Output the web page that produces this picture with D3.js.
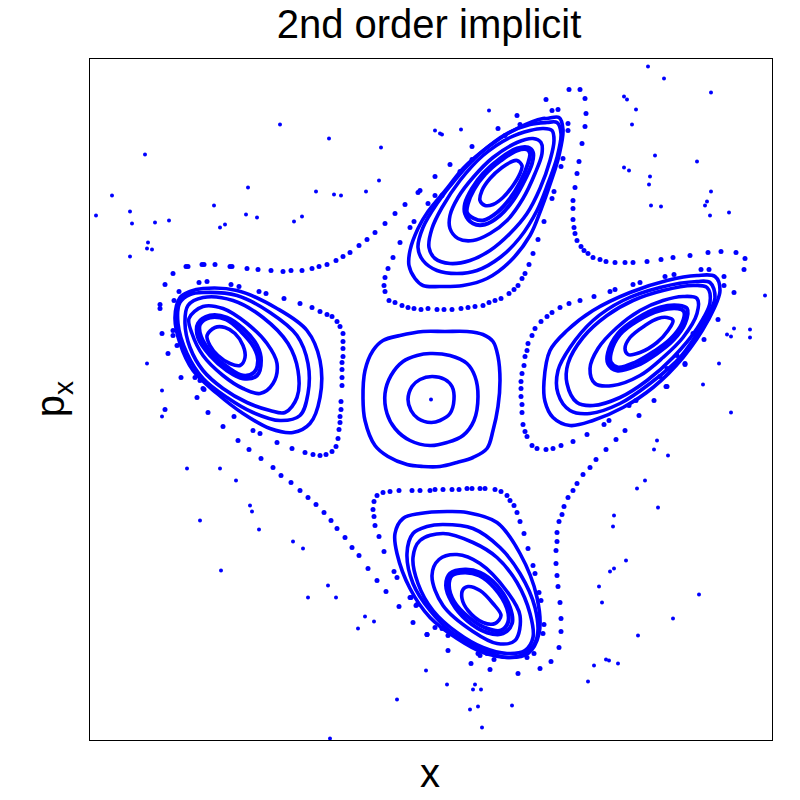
<!DOCTYPE html>
<html><head><meta charset="utf-8">
<style>html,body{margin:0;background:#fff}svg{display:block}text{font-family:"Liberation Sans",Arial,sans-serif;fill:#000}</style>
<script src="https://cdnjs.cloudflare.com/ajax/libs/d3/7.8.5/d3.min.js"></script>
</head><body><svg id="c" width="800" height="800"></svg>
<script>
const titleText="2nd order implicit";
const centreDot=[[0,0]];
const centreRings=[
[[1,23],[14,20],[21,13],[23,0],[19,-14],[9,-21],[0,-23],[-13,-19],[-20,-11],[-23,0],[-19,13],[-11,20]],
[[-1,46],[19,44],[36,36],[44,23],[47,3],[43,-21],[32,-36],[16,-43],[-1,-46],[-21,-41],[-36,-29],[-44,-14],[-46,6],[-40,24],[-28,38],[-14,44]],
[[-8,68],[14,68],[36,68],[52,65],[62,58],[67,43],[69,19],[67,-7],[62,-31],[56,-49],[42,-58],[26,-63],[9,-67],[-8,-67],[-24,-65],[-43,-57],[-56,-46],[-66,-21],[-68,1],[-66,29],[-58,49],[-48,59],[-31,64]]
];
const topIsland=[
[[86,239],[91,234],[89,226],[82,214],[72,202],[62,195],[54,194],[49,199],[51,209],[59,221],[71,232],[81,238]],
[[97,252],[102,247],[101,236],[92,216],[82,199],[69,184],[54,175],[42,176],[34,186],[34,196],[41,211],[52,226],[69,241],[86,251]],
[[96,250],[99,246],[97,236],[89,217],[79,201],[66,187],[52,179],[43,181],[36,187],[37,196],[43,210],[54,225],[70,239],[86,249]],
[[102,261],[110,257],[111,246],[104,226],[92,201],[76,179],[59,166],[42,159],[27,161],[19,171],[19,184],[27,202],[42,222],[62,242],[86,257]],
[[112,271],[121,269],[123,259],[119,239],[109,211],[96,186],[79,166],[59,149],[39,139],[19,136],[4,141],[-2,152],[1,171],[11,192],[29,219],[52,244],[79,262],[99,269]],
[[116,277],[126,277],[130,266],[126,242],[117,216],[106,189],[89,162],[69,142],[46,129],[26,126],[6,129],[-8,139],[-13,152],[-8,172],[6,196],[26,222],[49,246],[76,266],[99,275]],
[[116,281],[128,282],[132,270],[128,244],[120,218],[110,190],[99,164],[79,138],[56,121],[32,114],[9,113],[-8,114],[-16,121],[-22,134],[-21,149],[-13,171],[-3,188],[16,211],[32,231],[59,254],[86,271],[112,281]]
];
const leftIsland=[
[[-216,72],[-206,72],[-196,66],[-188,54],[-186,42],[-191,34],[-201,36],[-213,44],[-221,54],[-224,64]],
[[-221,84],[-204,82],[-188,71],[-174,54],[-170,39],[-174,24],[-188,21],[-204,29],[-221,44],[-233,62],[-233,76]],
[[-221,82],[-205,80],[-190,68],[-177,52],[-173,39],[-177,27],[-188,24],[-203,32],[-219,46],[-230,63],[-231,75]],
[[-228,93],[-208,91],[-184,76],[-164,56],[-154,36],[-158,16],[-171,6],[-188,11],[-208,24],[-228,44],[-239,66],[-242,81]],
[[-228,102],[-198,99],[-168,82],[-143,56],[-133,29],[-134,2],[-146,-13],[-161,-11],[-184,-3],[-208,11],[-228,29],[-241,52],[-246,76],[-243,94]],
[[-228,107],[-194,104],[-161,87],[-134,64],[-123,36],[-123,6],[-131,-16],[-151,-21],[-178,-13],[-204,2],[-228,21],[-244,46],[-253,76],[-251,97],[-241,105]],
[[-228,111],[-194,109],[-154,91],[-124,69],[-111,39],[-111,2],[-121,-24],[-138,-33],[-161,-29],[-188,-14],[-214,6],[-238,29],[-251,56],[-256,82],[-251,102],[-241,108]]
];
const rightIsland=[
[[236,82],[242,79],[237,69],[226,57],[209,47],[197,45],[194,51],[199,62],[214,74],[227,81]],
[[247,94],[256,91],[254,76],[242,59],[226,46],[206,34],[186,29],[177,36],[177,47],[187,66],[206,81],[229,92]],
[[247,91],[253,88],[251,76],[239,60],[223,48],[204,37],[187,32],[180,37],[180,47],[189,65],[207,79],[229,89]],
[[252,103],[266,101],[266,86],[252,62],[232,42],[209,24],[182,14],[164,16],[159,31],[167,51],[186,72],[209,89],[232,99]],
[[262,114],[276,112],[279,97],[266,71],[242,42],[216,19],[189,2],[162,-6],[146,-3],[136,16],[137,36],[152,62],[176,84],[202,99],[232,109]],
[[266,118],[279,117],[284,102],[272,76],[249,42],[219,16],[189,-4],[159,-14],[139,-11],[127,6],[127,29],[139,52],[162,79],[192,99],[229,112]],
[[266,124],[284,123],[289,109],[277,79],[252,42],[222,12],[192,-8],[162,-21],[139,-26],[122,-18],[114,-2],[113,18],[119,49],[136,69],[162,89],[199,107],[236,119]]
];
const bottomIsland=[
[[37,-187],[49,-191],[62,-204],[70,-216],[64,-224],[52,-223],[37,-211],[31,-199],[32,-190]],
[[34,-170],[49,-173],[66,-186],[79,-208],[81,-224],[72,-234],[56,-233],[36,-221],[21,-203],[15,-186],[19,-174]],
[[34,-173],[48,-176],[63,-188],[76,-209],[77,-223],[70,-231],[56,-229],[38,-218],[23,-202],[18,-186],[21,-176]],
[[26,-155],[49,-164],[76,-192],[89,-216],[84,-241],[66,-244],[42,-232],[12,-206],[1,-176],[8,-160]],
[[12,-134],[42,-143],[66,-158],[86,-183],[99,-214],[102,-238],[94,-251],[76,-254],[52,-248],[26,-233],[2,-211],[-13,-184],[-18,-158],[-11,-141]],
[[12,-125],[42,-129],[69,-148],[89,-174],[104,-208],[106,-238],[96,-253],[76,-258],[49,-249],[22,-234],[-1,-211],[-18,-184],[-24,-154],[-18,-134],[-4,-127]],
[[-11,-114],[16,-112],[36,-113],[66,-123],[89,-154],[106,-198],[108,-234],[97,-254],[79,-258],[52,-253],[26,-239],[-1,-218],[-21,-189],[-34,-154],[-36,-134],[-28,-119]]
];
const scatterPoints=[
[-151,275],[-102,261],[-50,252],[-286,245],[-52,219],[-183,212],[-115,208],[-97,205],[-90,204],[-65,208],[-319,204],[-217,194],[-301,188],[-335,184],[-185,185],[-174,182],[-129,183],[-137,178],[-262,179],[-276,177],[-299,176],[-206,175],[-211,172],[-283,157],[-284,151],[-279,150],[-301,143],[-284,36],[-269,9],
[-269,-17],[-244,-69],[-211,-69],[-195,-81],[-181,-106],[-179,-112],[-231,-121],[-172,-130],[-138,-142],[-128,-149],[-210,-171],[-103,-186],[-123,-198],[-95,-198],[-66,-217],[-57,-222],[-73,-229],[-5,-271],[-34,-300],[-101,-339],
[300,-13],[226,-41],[223,-50],[237,-56],[214,-81],[206,-89],[227,-108],[183,-116],[182,-127],[195,-161],[183,-169],[179,-172],[168,-187],[171,-203],[268,-195],[242,-219],[207,-236],[175,-260],[178,-261],[187,-264],[163,-266],[157,-282],[16,-285],[44,-285],[42,-290],[50,-290],[47,-307],[39,-310],[81,-306],[51,-328],
[217,333],[233,321],[280,307],[193,303],[196,300],[205,290],[201,275],[224,244],[266,238],[193,232],[198,229],[219,223],[218,215],[280,208],[276,198],[274,194],[220,194],[230,193],[279,184],[298,187],[334,104],[303,71],[319,70],[296,65],[300,63],[319,62],[288,36],[272,15],[58,289],[30,270],[4,269],[9,266],[11,265]
];
const outerChain=[
[-271,95],[-271,91],[-266,115],[-258,126],[-245,133],[-243,133],[-229,135],[-227,135],[-216,135],[-201,133],[-199,133],[-184,131],[-173,130],[-160,129],[-148,128],[-140,129],[-129,129],[-119,131],[-112,133],[-104,135],[-95,139],[-88,143],[-81,147],[-72,154],[-64,160],[-56,167],[-46,176],[-36,186],[-26,195],[-13,207],[-11,209],
[4,223],[19,235],[41,253],[67,271],[86,284],[115,300],[138,310],[149,310],[154,301],[155,286],[154,273],[151,256],[148,238],[146,226],[144,212],[142,199],[142,191],[142,180],[143,172],[144,166],[146,159],[150,153],[153,149],[157,146],[162,142],[169,140],[175,138],[184,137],[194,137],[202,137],[216,138],[230,140],[242,142],[259,144],[277,147],[290,148],[305,147],[314,141],[313,130],[303,107],[287,80],[273,60],[254,35],[235,13],[223,-1],[208,-16],[194,-31],[185,-40],[175,-50],[165,-60],[159,-68],[152,-75],[146,-84],[142,-91],[137,-98],[133,-107],[131,-115],[128,-122],[126,-133],[126,-142],[125,-151],[125,-164],[126,-176],[127,-187],[129,-203],[130,-219],[130,-232],[128,-248],[120,-262],[109,-269],[87,-274],[59,-270],[40,-264],[17,-251],
[-4,-235],[-18,-223],[-32,-207],[-45,-192],[-54,-181],[-63,-169],[-72,-156],[-79,-148],[-86,-138],[-94,-129],[-100,-121],[-107,-113],[-115,-105],[-123,-98],[-131,-91],[-140,-83],[-150,-76],[-158,-68],[-170,-59],[-182,-50],[-193,-41],[-208,-27],[-223,-13],[-266,-10],[-227,10],[-250,22],[-263,46],[-269,66]
];
const rightChain=[
[270,130],[278,130],[293,123],[293,114],[243,125],[234,123],[209,117],[202,115],[184,110],[179,108],[163,103],[149,99],[138,96],[129,92],[121,87],[116,83],[110,78],[104,71],[101,64],[97,56],[96,49],[94,43],[93,34],[91,26],[90,18],[90,11],[90,3],[91,-5],[91,-13],[92,-25],[94,-32],[96,-37],[101,-46],[106,-49],[115,-50],[122,-49],[130,-46],[142,-42],[156,-35],[173,-25],[178,-21],[198,-6],[205,-1]
];
const bottomChain=[
[4,-90],[12,-90],[21,-90],[28,-90],[36,-89],[41,-89],[49,-89],[54,-89],[64,-90],[70,-92],[76,-96],[79,-101],[83,-106],[86,-113],[89,-122],[93,-134],[97,-149],[102,-166],[104,-174],[108,-193],[110,-201],[113,-225],[112,-234],[103,-254],[96,-258],[63,-260],[49,-256],
[-1,-91],[-11,-91],[-19,-91],[-32,-91],[-41,-92],[-48,-93],[-54,-96],[-57,-102],[-58,-110],[-57,-117],[-56,-126],[-52,-137],[-47,-152],[-37,-172],[-34,-178],[-21,-198],[-15,-206]
];
const leftChain=[
[-197,-17],[-178,-31],[-171,-34],[-154,-43],[-139,-49],[-126,-53],[-118,-55],[-111,-56],[-105,-55],[-99,-52],[-95,-47],[-93,-39],[-92,-30],[-91,-23],[-91,-17],[-90,-10],[-90,-2],[-89,14],[-89,22],[-89,30],[-89,37],[-88,43],[-88,51],[-88,58],[-88,66],[-91,73],[-94,78],[-99,83],[-104,85],[-111,88],[-119,92],[-131,96],[-147,101],[-165,106],[-172,108],[-192,113],[-200,115],[-224,118],[-232,117],[-252,108],[-257,99]
];
const topChain=[
[-3,196],[-17,178],[-21,172],[-31,157],[-38,142],[-43,131],[-46,122],[-47,114],[-46,108],[-42,99],[-36,97],[-29,94],[-23,92],[-17,91],[-10,90],[-3,91],[6,90],[13,90],[21,90],[30,91],[37,92],[44,93],[52,94],[58,97],[64,99],[70,101],[78,106],[83,110],[87,114],[91,121],[94,126],[98,135],[102,146],[107,160],[113,178],[121,201],[123,208],[130,233],[132,241],[137,269],[137,276],[127,290],[121,289]
];
const layerFringe=[
[4,-228],[11,-229],[17,-236],[47,-254],[56,-254],[-4,-235],[-14,-205],[-20,-198],
[-258,69],[-258,64],[-254,54],[-236,22],[-231,19],[-234,2],[-228,11],
[229,23],[236,31],[246,44],[262,66],[274,82],[254,36],[236,13],
[41,240],[11,204],[89,275],[74,264],[29,228],[4,204]
];

const svg=d3.select("#c");
const left=89.5,right=772.5,top_=58.5,bottom=740.5;
const x=d3.scaleLinear().domain([-341.5,341.5]).range([left,right]);
const y=d3.scaleLinear().domain([-341,341]).range([bottom,top_]);
const line=d3.line().x(d=>x(d[0])).y(d=>y(d[1])).curve(d3.curveCatmullRomClosed.alpha(0.5));
const blue="#0000ff";

[topIsland,leftIsland,rightIsland,bottomIsland].forEach(island=>{
 svg.append("g").selectAll("path").data(island).join("path").attr("d",line)
  .attr("fill","none").attr("stroke",blue).attr("stroke-width",(d,i)=>i===1||i===2?4:3.6);
});
svg.append("g").selectAll("path").data(centreRings).join("path").attr("d",line)
 .attr("fill","none").attr("stroke",blue).attr("stroke-width",3.6);

svg.append("g").selectAll("circle")
 .data([...outerChain,...rightChain,...bottomChain,...leftChain,...topChain,...layerFringe])
 .join("circle").attr("cx",d=>x(d[0])).attr("cy",d=>y(d[1])).attr("r",2.5).attr("fill",blue);
svg.append("g").selectAll("circle")
 .data([...scatterPoints,...centreDot])
 .join("circle").attr("cx",d=>x(d[0])).attr("cy",d=>y(d[1])).attr("r",2).attr("fill",blue);

svg.append("rect").attr("x",left).attr("y",top_).attr("width",right-left).attr("height",bottom-top_)
 .attr("fill","none").attr("stroke","#000").attr("stroke-width",1);
svg.append("text").attr("x",429).attr("y",38).attr("text-anchor","middle").attr("font-size",40).text(titleText);
svg.append("text").attr("x",430).attr("y",787).attr("text-anchor","middle").attr("font-size",40).text("x");
const yl=svg.append("text").attr("transform","translate(64,399) rotate(-90)").attr("text-anchor","middle").attr("font-size",40);
yl.append("tspan").text("p");
yl.append("tspan").attr("font-size",28).attr("dy",9).text("x");
</script></body></html>
